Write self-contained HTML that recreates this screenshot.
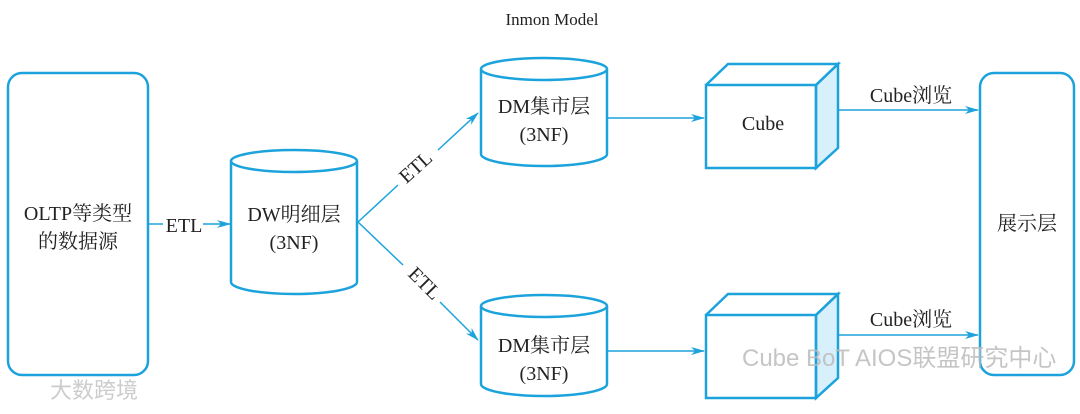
<!DOCTYPE html>
<html><head><meta charset="utf-8"><style>body{margin:0;background:#fff}</style></head><body>
<svg width="1080" height="409" xmlns="http://www.w3.org/2000/svg" font-family="Liberation Serif, Noto Serif CJK SC, serif" font-size="20" fill="#222">
<defs><marker id="a" markerWidth="14" markerHeight="8" refX="13" refY="4" orient="auto" markerUnits="userSpaceOnUse"><path d="M0,0 L14,4 L0,8 L4,4Z" fill="#1ca3dc"/></marker></defs>
<g stroke="#1ca3dc" stroke-width="2.5" fill="none">
<rect x="8" y="73" width="140" height="302" rx="14"/>
<rect x="980" y="73" width="94" height="302" rx="14"/>
<path d="M231,161 V282 A63,12 0 0 0 357,282 V161" fill="#fff"/>
<ellipse cx="294" cy="161" rx="63" ry="11"/>
<path d="M481,69 V154 A63,12 0 0 0 607,154 V69"/>
<ellipse cx="544" cy="69" rx="63" ry="11"/>
<path d="M481,306 V384 A63,12 0 0 0 607,384 V306"/>
<ellipse cx="544" cy="306" rx="63" ry="11"/>
<path d="M816,85 L838,64 V148 L816,168Z" fill="#d8f0fb"/>
<rect x="706" y="85" width="110" height="83"/>
<path d="M706,85 L728,64 H838 L816,85"/>
<path d="M816,315 L838,294 V378 L816,398Z" fill="#d8f0fb"/>
<rect x="706" y="315" width="110" height="83"/>
<path d="M706,315 L728,294 H838 L816,315"/>
</g>
<g stroke="#1ca3dc" stroke-width="1.5" fill="none">
<line x1="148" y1="224" x2="163" y2="224"/>
<line x1="203" y1="224" x2="230" y2="224" marker-end="url(#a)"/>
<line x1="358" y1="222" x2="398" y2="185"/>
<line x1="438" y1="150" x2="478" y2="113" marker-end="url(#a)"/>
<line x1="358" y1="222" x2="403" y2="265"/>
<line x1="440" y1="302" x2="478" y2="340" marker-end="url(#a)"/>
<line x1="608" y1="118" x2="704" y2="118" marker-end="url(#a)"/>
<line x1="608" y1="351" x2="704" y2="351" marker-end="url(#a)"/>
<line x1="838" y1="110" x2="978" y2="110" marker-end="url(#a)"/>
<line x1="838" y1="335" x2="978" y2="335" marker-end="url(#a)"/>
</g>
<text x="552" y="25" text-anchor="middle" font-size="17">Inmon Model</text>
<text x="78" y="220" text-anchor="middle">OLTP等类型</text>
<text x="78" y="248" text-anchor="middle">的数据源</text>
<text x="184" y="232" text-anchor="middle">ETL</text>
<text x="294" y="221" text-anchor="middle">DW明细层</text>
<text x="294" y="249" text-anchor="middle">(3NF)</text>
<text x="544" y="113" text-anchor="middle">DM集市层</text>
<text x="544" y="141" text-anchor="middle">(3NF)</text>
<text x="544" y="352" text-anchor="middle">DM集市层</text>
<text x="544" y="380" text-anchor="middle">(3NF)</text>
<text x="763" y="130" text-anchor="middle">Cube</text>
<text x="911" y="102" text-anchor="middle">Cube浏览</text>
<text x="911" y="326" text-anchor="middle">Cube浏览</text>
<text x="1027" y="230" text-anchor="middle">展示层</text>
<text transform="translate(420,172) rotate(-42)" text-anchor="middle">ETL</text>
<text transform="translate(420,288) rotate(45)" text-anchor="middle">ETL</text>
<text x="50" y="398" font-family="Liberation Sans, Noto Sans CJK SC, sans-serif" font-size="22" fill="#ccc">大数跨境</text>
<text x="742" y="366" font-family="Liberation Sans, Noto Sans CJK SC, sans-serif" font-size="24" fill="#bbb" fill-opacity="0.85">Cube BoT AIOS联盟研究中心</text>
</svg>
</body></html>
